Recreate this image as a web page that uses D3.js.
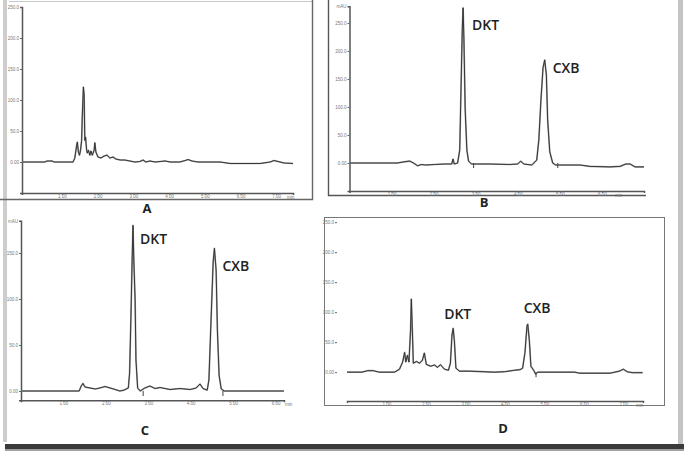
<!DOCTYPE html>
<html>
<head>
<meta charset="utf-8">
<script src="https://cdn.jsdelivr.net/npm/d3@7"></script>
<style>
  body { margin: 0; background: #fff; }
  svg { display: block; }
  .tick text { font-family: "Liberation Sans", Arial, sans-serif; fill: #777; }
  .peak-label { font-family: "Open Sans", "Noto Sans", sans-serif; font-weight: 600; font-size: 14px; fill: #222; }
  .panel-label { font-family: "Open Sans", "Noto Sans", sans-serif; font-weight: 700; font-size: 13px; fill: #222; }
</style>
</head>
<body>
<svg id="chart" width="685" height="455"></svg>
<script>
// chromatogram traces: [time (min), signal (mAU)]
const traceA = [
  [-0.12, 0], [0.52, 0], [0.58, 1.6], [0.72, 1.6], [0.78, 0], [1.31, 0], [1.36, 6.5],
  [1.41, 27], [1.43, 32], [1.46, 16], [1.49, 11], [1.52, 19], [1.55, 35], [1.57, 76],
  [1.60, 121], [1.62, 108], [1.64, 35], [1.66, 40], [1.69, 19], [1.71, 14.5], [1.74, 19],
  [1.78, 11], [1.81, 17.7], [1.85, 11], [1.90, 19], [1.92, 31], [1.95, 16], [2.01, 8],
  [2.09, 6.5], [2.18, 9.7], [2.26, 11], [2.34, 6.5], [2.43, 8], [2.51, 4.8], [2.63, 3.2],
  [2.76, 3.2], [2.90, 1.6], [3.04, 0], [3.18, 0.8], [3.27, 3.2], [3.35, 0], [3.46, 1.6],
  [3.61, 0], [3.89, 1.6], [4.03, 0], [4.30, 0], [4.45, 2.4], [4.53, 4], [4.64, 1.6],
  [4.81, 0], [5.43, 0], [5.71, -2.4], [6.55, -2.4], [6.83, 0], [6.94, 2.4], [7.05, 0.8],
  [7.22, -1.6], [7.47, -2.4]
];
const traceB = [
  [0, 0], [1.14, 0], [1.29, 2], [1.43, 3.5], [1.52, 0], [1.62, -5], [1.71, -2.7],
  [1.81, -3.6], [2.02, -2.7], [2.26, -1.8], [2.43, -1.8], [2.46, 7], [2.49, -1.8],
  [2.57, 0], [2.62, 23], [2.65, 130], [2.68, 237], [2.70, 277], [2.72, 220], [2.75, 95],
  [2.79, 23], [2.83, 3.5], [2.90, -1.8], [3.33, -1.8], [3.81, -2.7], [4.00, -1.8],
  [4.07, 3.5], [4.14, -1.8], [4.33, -3.6], [4.45, 5], [4.50, 41], [4.55, 112], [4.60, 170],
  [4.64, 184], [4.68, 157], [4.71, 77], [4.76, 20], [4.83, 0], [4.90, -3.6], [5.48, -3.6],
  [5.71, -6], [6.19, -7], [6.43, -6], [6.57, -1.8], [6.67, -1.8], [6.79, -7], [7.00, -7]
];
const traceC = [
  [0, 0], [1.37, 0], [1.42, 5.4], [1.46, 8.2], [1.51, 4.3], [1.63, 3.3], [1.75, 2.2],
  [1.86, 3.3], [1.98, 4.9], [2.10, 3.3], [2.22, 1.6], [2.33, 0], [2.43, 1], [2.53, 3.3],
  [2.56, 19.6], [2.59, 77], [2.62, 142], [2.64, 180], [2.66, 142], [2.69, 99], [2.71, 34],
  [2.75, 3.3], [2.81, 0], [2.92, 3.3], [3.04, 5.4], [3.16, 2.7], [3.28, 3.8], [3.51, 1.6],
  [3.75, 2.7], [3.99, 1.6], [4.13, 3.3], [4.22, 7.6], [4.29, 2.7], [4.39, 1], [4.43, 12],
  [4.48, 77], [4.53, 140], [4.56, 155], [4.60, 131], [4.63, 66], [4.67, 17], [4.72, 2.2],
  [4.79, 0], [6.20, 0]
];
const traceD = [
  [0, 0], [0.37, 0], [0.52, 2.5], [0.67, 2.5], [0.82, 0], [1.20, 0], [1.33, 5], [1.41, 17],
  [1.46, 33], [1.49, 17], [1.53, 28], [1.57, 17], [1.61, 70], [1.63, 122], [1.66, 62],
  [1.68, 15], [1.76, 18], [1.84, 15], [1.91, 20], [1.96, 32], [2.01, 13], [2.12, 10],
  [2.22, 12], [2.29, 8], [2.37, 12.5], [2.47, 5], [2.57, 3.3], [2.62, 15], [2.66, 62],
  [2.69, 73], [2.72, 53], [2.76, 6.7], [2.85, 1.7], [3.11, 1.7], [3.74, 0], [3.99, 0.8],
  [4.25, 3.3], [4.38, 4.2], [4.45, 6.7], [4.51, 33], [4.56, 77], [4.58, 80], [4.62, 53],
  [4.66, 10], [4.73, 3.3], [4.78, -3.3], [4.83, 0], [5.77, 0], [5.90, -1.7], [6.66, -1.7],
  [6.90, 1.7], [7.00, 5], [7.10, 0.8], [7.23, -0.8], [7.49, -0.8]
];

// integration markers (retention time of the tick drawn under the baseline)
const markersB = [2.95, 4.95];
const markersC = [2.88, 4.76];
const markersD = [4.79];

// axis ticks
const yTicks = [0, 50, 100, 150, 200, 250];
const yTicksC = [0, 50, 100, 150];
const xTicksA = [1, 2, 3, 4, 5, 6, 7];
const xTicksB = [1, 2, 3, 4, 5, 6];
const xTicksC = [1, 2, 3, 4, 5, 6];
const xTicksD = [1, 2, 3, 4, 5, 6, 7];

// labelled peaks: [name, retention time, height]
const peaksB = [["DKT", 2.70, 277], ["CXB", 4.64, 184]];
const peaksC = [["DKT", 2.64, 180], ["CXB", 4.56, 155]];
const peaksD = [["DKT", 2.69, 73], ["CXB", 4.58, 80]];

const svg = d3.select("#chart");

// page frame: light side rules and the dark bottom shadow
svg.append("rect").attr("x", 3).attr("y", 0).attr("width", 4).attr("height", 442).attr("fill", "#cdcdcd");
svg.append("rect").attr("x", 678).attr("y", 0).attr("width", 5).attr("height", 446).attr("fill", "#c4c4c4");
svg.append("rect").attr("x", 5).attr("y", 444).attr("width", 679).attr("height", 5).attr("fill", "#3a3a3a");
svg.append("rect").attr("x", 5).attr("y", 449).attr("width", 679).attr("height", 2).attr("fill", "#a0a0a0");

// panel boxes from the scanned figure
const frame = svg.append("g").attr("fill", "none");
frame.append("path").attr("d", "M9,1.5H312.5").attr("stroke", "#c8c8c8").attr("stroke-width", 1);
frame.append("path").attr("d", "M312.5,0V199.5H0").attr("stroke", "#666").attr("stroke-width", 1.4);
frame.append("path").attr("d", "M328.5,0V195.5H646").attr("stroke", "#555").attr("stroke-width", 1.4);
frame.append("rect").attr("x", 324.5).attr("y", 217.5).attr("width", 340).attr("height", 188)
  .attr("stroke", "#777").attr("stroke-width", 1);

const panels = [
  { name: "A", trace: traceA, xDom: [-0.12, 7.47], xRange: [22, 293], yDom: [-50, 250], yRange: [193, 7],
    yTicks: yTicks, xTicks: xTicksA, unit: 287, peaks: [], markers: [], yAxis: true, mau: false, labelPos: [147, 213] },
  { name: "B", trace: traceB, xDom: [0, 7.0], xRange: [349.5, 644], yDom: [-50, 280], yRange: [191, 6.2],
    yTicks: yTicks, xTicks: xTicksB, unit: 615, peaks: peaksB, markers: markersB, yAxis: true, mau: true, labelPos: [484, 207],
    offsets: [[9, 22], [8, 13]] },
  { name: "C", trace: traceC, xDom: [0, 6.2], xRange: [21, 284], yDom: [-10, 185], yRange: [400.2, 220.8],
    yTicks: yTicksC, xTicks: xTicksC, unit: 285, peaks: peaksC, markers: markersC, yAxis: true, mau: true, labelPos: [145, 435],
    offsets: [[7, 19], [8, 23]] },
  { name: "D", trace: traceD, xDom: [0, 7.5], xRange: [347, 643], yDom: [-48, 260], yRange: [401, 216.2],
    yTicks: yTicks, xTicks: xTicksD, unit: 636, peaks: peaksD, markers: markersD, yAxis: false, mau: false, labelPos: [503, 433],
    offsets: [[-9, -9], [-4, -11]] }
];

panels.forEach(p => {
  const g = svg.append("g").attr("class", "panel-" + p.name);
  const x = d3.scaleLinear().domain(p.xDom).range(p.xRange);
  const y = d3.scaleLinear().domain(p.yDom).range(p.yRange);

  // y axis
  const ya = g.append("g")
    .attr("transform", `translate(${p.xRange[0] + (p.yAxis ? 0 : -10)},0)`)
    .call(d3.axisLeft(y).tickValues(p.yTicks).tickSize(2).tickPadding(1)
      .tickFormat(d => d === 0 ? "0.00" : d3.format(".1f")(d)));
  ya.selectAll(".tick text").attr("font-size", 4.5);
  ya.selectAll(".tick line").attr("stroke", "#666");
  ya.select(".domain").attr("stroke", p.yAxis ? "#555" : "none").attr("stroke-width", 1.5);
  if (p.mau) {
    g.append("text").attr("x", p.xRange[0] - 3).attr("y", p.yRange[1] + 2)
      .attr("font-size", 4.5).attr("fill", "#777").attr("font-family", "Liberation Sans, sans-serif")
      .attr("text-anchor", "end").text("mAU");
  }

  // x axis
  const xa = g.append("g")
    .attr("transform", `translate(0,${p.yRange[0]})`)
    .call(d3.axisBottom(x).tickValues(p.xTicks).tickSize(2).tickPadding(0)
      .tickFormat(d => d3.format(".2f")(d)));
  xa.selectAll(".tick text").attr("font-size", 4.5);
  xa.selectAll(".tick line").attr("stroke", "#666");
  xa.select(".domain").attr("stroke", "#555").attr("stroke-width", 1.5);
  g.append("text").attr("x", p.unit).attr("y", p.yRange[0] + 6)
    .attr("font-size", 4.5).attr("fill", "#777").attr("font-family", "Liberation Sans, sans-serif")
    .text("min");

  // trace: grey halo under a thin dark line, like the scanned overlay
  const line = d3.line().x(d => x(d[0])).y(d => y(d[1]));
  g.append("path").datum(p.trace)
    .attr("d", line)
    .attr("fill", "none")
    .attr("stroke", "#a0a0a0")
    .attr("stroke-width", 1.7)
    .attr("stroke-linejoin", "round");
  g.append("path").datum(p.trace)
    .attr("d", line)
    .attr("fill", "none")
    .attr("stroke", "#2a2a2a")
    .attr("stroke-width", 0.9)
    .attr("stroke-linejoin", "round");

  // integration ticks
  g.selectAll(".marker").data(p.markers).join("line")
    .attr("class", "marker")
    .attr("x1", d => x(d)).attr("x2", d => x(d))
    .attr("y1", y(0)).attr("y2", y(0) + 5)
    .attr("stroke", "#444").attr("stroke-width", 1);

  // peak names
  g.selectAll(".peak-label").data(p.peaks).join("text")
    .attr("class", "peak-label")
    .attr("x", (d, i) => x(d[1]) + p.offsets[i][0])
    .attr("y", (d, i) => y(d[2]) + p.offsets[i][1])
    .text(d => d[0]);

  g.append("text").attr("class", "panel-label")
    .attr("x", p.labelPos[0]).attr("y", p.labelPos[1])
    .attr("text-anchor", "middle")
    .text(p.name);
});
</script>
</body>
</html>
